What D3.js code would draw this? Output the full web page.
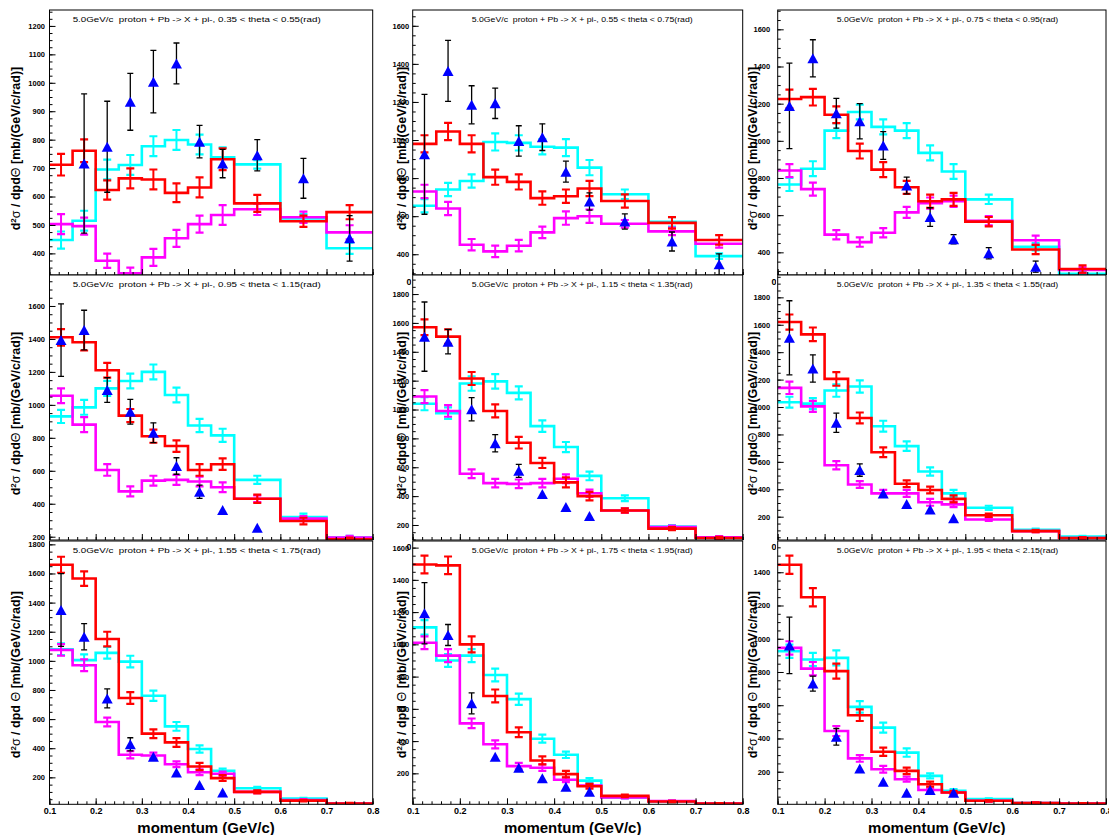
<!DOCTYPE html>
<html><head><meta charset="utf-8">
<script src="https://cdn.jsdelivr.net/npm/d3@7"></script>
<style>
body{margin:0;background:#fff}
text{font-family:"Liberation Sans",Arial,Helvetica,sans-serif}
</style>
</head><body>
<svg id="c" width="1109" height="835" xmlns="http://www.w3.org/2000/svg"></svg>
<script>
// ---------------- data ----------------
const binEdges = [0.1,0.15,0.2,0.25,0.3,0.35,0.4,0.45,0.5,0.6,0.7,0.8];
const thetaRanges = ["0.35 < theta < 0.55","0.55 < theta < 0.75","0.75 < theta < 0.95",
                     "0.95 < theta < 1.15","1.15 < theta < 1.35","1.35 < theta < 1.55",
                     "1.55 < theta < 1.75","1.75 < theta < 1.95","1.95 < theta < 2.15"];
const titlePrefix = "5.0GeV/c  proton + Pb -> X + pi-, ";
const titleSuffix = "(rad)";
const yMin  = [324, 291, 278, 180, 96, 30, 15, 8, 4];
const yMax  = [1256, 1683, 1704, 1788, 1932, 1963, 1823, 1641, 1588];
const yStep = [100, 200, 200, 200, 200, 200, 200, 200, 200];
const xTicks = [0.1,0.2,0.3,0.4,0.5,0.6,0.7,0.8];
const xTitle = "momentum (GeV/c)";

const redVals = [
 [712,761,623,664,660,613,632,731,576,513,545],
 [980,1045,980,805,780,695,705,745,680,565,475],
 [1225,1235,1140,945,845,750,675,685,565,415,310],
 [1410,1380,1210,935,810,750,605,640,430,295,185],
 [1570,1505,1215,990,770,630,495,400,300,175,110],
 [1620,1530,1205,920,670,440,395,330,210,95,45],
 [1660,1565,1150,745,500,440,275,195,100,40,20],
 [1495,1490,1000,680,455,280,195,120,60,25,12],
 [1445,1250,805,540,320,205,125,75,25,12,8]];
const redErrs = [
 [38,40,34,35,35,33,35,38,30,20,25],
 [45,45,45,40,40,35,35,40,35,30,25],
 [50,45,45,40,40,35,35,35,25,25,20],
 [50,50,45,40,40,35,35,35,25,20,10],
 [55,50,45,45,40,35,35,30,15,10,8],
 [55,50,50,40,35,25,25,25,12,8,5],
 [55,50,50,40,30,30,25,20,10,5,5],
 [55,55,50,40,30,25,20,15,8,5,3],
 [55,55,45,35,25,20,15,10,5,3,3]];
const cyanVals = [
 [447,515,695,711,777,799,783,738,713,523,418],
 [655,740,785,990,985,965,960,855,715,570,390],
 [765,850,1055,1155,1075,1055,935,835,685,430,285],
 [930,985,1100,1145,1200,1060,875,815,545,320,195],
 [1040,975,1180,1195,1115,885,740,540,385,190,115],
 [1035,1025,1120,1150,860,715,530,370,265,105,55],
 [1080,1005,1055,995,760,550,395,245,125,55,20],
 [1105,900,930,810,660,415,315,155,50,25,12],
 [925,875,885,590,465,315,175,85,35,12,8]];
const cyanErrs = [
 [30,35,35,35,35,35,35,35,15,15,20],
 [35,35,35,45,40,40,45,40,25,25,15],
 [35,40,40,40,40,40,40,40,25,20,15],
 [40,45,45,45,45,45,40,40,25,20,10],
 [45,40,50,50,45,40,35,30,20,10,8],
 [40,40,45,45,40,35,30,25,15,8,5],
 [40,40,40,40,35,30,25,15,10,5,3],
 [45,40,40,40,35,25,20,15,5,5,3],
 [40,40,45,35,30,25,15,10,5,3,3]];
const magentaVals = [
 [503,496,374,330,386,453,503,535,555,527,474],
 [730,640,450,415,445,515,590,600,560,520,455],
 [840,740,495,455,505,615,665,675,570,465,305],
 [1055,880,605,475,540,545,535,500,430,310,195],
 [1090,990,555,490,485,490,520,420,300,185,115],
 [1140,1005,575,435,370,370,305,290,180,95,45],
 [1075,970,580,355,350,290,235,225,100,45,20],
 [1010,930,510,380,245,235,160,125,50,28,12],
 [945,820,445,280,215,155,90,75,25,12,8]];
const magentaErrs = [
 [35,30,25,20,30,30,30,35,20,20,25],
 [35,35,30,30,30,30,35,35,20,20,20],
 [35,35,25,25,25,30,30,30,25,25,15],
 [45,45,35,30,30,30,30,30,20,15,10],
 [45,40,30,30,30,30,30,25,15,10,8],
 [45,40,30,25,25,25,25,20,10,8,5],
 [40,40,30,25,20,20,20,15,8,5,3],
 [40,40,30,25,20,20,15,10,5,5,3],
 [40,40,30,20,20,15,10,8,5,3,3]];
const dataX = [
 [0.175,0.225,0.275,0.325,0.375,0.425,0.475,0.55,0.65,0.75],
 [0.125,0.175,0.225,0.275,0.325,0.375,0.425,0.475,0.55,0.65,0.75],
 [0.125,0.175,0.225,0.275,0.325,0.375,0.425,0.475,0.55,0.65],
 [0.125,0.175,0.225,0.275,0.325,0.375,0.425,0.475,0.55],
 [0.125,0.175,0.225,0.275,0.325,0.375,0.425,0.475],
 [0.125,0.175,0.225,0.275,0.325,0.375,0.425,0.475],
 [0.125,0.175,0.225,0.275,0.325,0.375,0.425,0.475],
 [0.125,0.175,0.225,0.275,0.325,0.375,0.425,0.475],
 [0.125,0.175,0.225,0.275,0.325,0.375,0.425,0.475]];
const dataVals = [
 [716,775,933,1004,1068,793,716,745,664,453],
 [925,1363,1185,1193,995,1015,834,677,572,467,347],
 [1188,1444,1148,1105,975,760,590,470,395,323],
 [1393,1454,1090,958,831,629,473,362,255],
 [1505,1470,1002,766,575,415,325,262],
 [1505,1281,885,540,370,292,253,188],
 [1349,1166,742,427,342,234,147,96],
 [1193,1058,634,303,235,169,117,86],
 [960,730,410,220,140,74,90,74]];
const dataErrs = [
 [245,160,100,110,72,57,50,55,70,80],
 [315,160,100,80,80,70,55,45,40,50,55],
 [230,100,80,95,75,45,50,25,30,30],
 [220,120,75,75,60,50,40,0,0],
 [240,85,80,60,45,0,0,0],
 [270,100,70,45,0,0,0,0],
 [250,90,65,45,0,0,0,0],
 [190,65,65,0,0,0,0,0],
 [170,45,50,0,0,0,0,0]];

// ---------------- layout ----------------
const W = 1109, H = 835;
const colL = [49.5, 412.7, 777.7], colR = [372.7, 742.7, 1106];
const rowT = [10, 275, 541], rowB = [275, 540, 804.3];
const coverL = [0, 411.6, 776.3], coverR = [392, 760, 1109];
const titleX = [72.7, 471.7, 836.7], titleW = [248, 221, 221.6];
const yTitleX = [16, 402, 753], yTitleShift = [6, 6, 2];
const yLabGap = [4.5, 3.5, 7.5];
const FONT = '"Liberation Sans",Arial,Helvetica,sans-serif';

const svg = d3.select("#c");
svg.append("rect").attr("width", W).attr("height", H).attr("fill", "#fff");

const series = [
  {vals: cyanVals, errs: cyanErrs, color: "#00ffff"},
  {vals: magentaVals, errs: magentaErrs, color: "#ff00ff"},
  {vals: redVals, errs: redErrs, color: "#ff0000"}
];
const fmtX = d3.format(".1f");

for (let p = 0; p < 9; p++) {
  const r = Math.floor(p / 3), c = p % 3;
  const g = svg.append("g");
  // pad background (covers what the previous pads drew here)
  g.append("rect").attr("x", coverL[c]).attr("y", rowT[r])
    .attr("width", coverR[c] - coverL[c]).attr("height", rowB[r] - rowT[r]).attr("fill", "#fff");

  const x = d3.scaleLinear().domain([0.1, 0.8]).range([colL[c], colR[c]]);
  const y = d3.scaleLinear().domain([yMin[p], yMax[p]]).range([rowB[r], rowT[r]]);

  const cid = "clip" + p;
  g.append("clipPath").attr("id", cid).append("rect")
    .attr("x", colL[c]).attr("y", rowT[r]).attr("width", colR[c] - colL[c]).attr("height", rowB[r] - rowT[r]);
  const pg = g.append("g").attr("clip-path", `url(#${cid})`);

  const line = d3.line().x(d => x(d[0])).y(d => y(d[1]));
  series.forEach(s => {
    const v = s.vals[p], e = s.errs[p];
    const pts = [];
    v.forEach((val, i) => { pts.push([binEdges[i], val]); pts.push([binEdges[i + 1], val]); });
    pg.append("path").attr("d", line(pts)).attr("fill", "none")
      .attr("stroke", s.color).attr("stroke-width", 2.6);
    v.forEach((val, i) => {
      const xc = x((binEdges[i] + binEdges[i + 1]) / 2);
      const y1 = y(val - e[i]), y2 = y(val + e[i]);
      pg.append("line").attr("x1", xc).attr("x2", xc).attr("y1", y1).attr("y2", y2)
        .attr("stroke", s.color).attr("stroke-width", 2);
      [y1, y2].forEach(yy => pg.append("line").attr("x1", xc - 4).attr("x2", xc + 4)
        .attr("y1", yy).attr("y2", yy).attr("stroke", s.color).attr("stroke-width", 2.2));
    });
  });

  // data points
  dataX[p].forEach((xv, i) => {
    const xc = x(xv), v = dataVals[p][i], e = dataErrs[p][i];
    if (e > 0) {
      const y1 = y(v - e), y2 = y(v + e);
      pg.append("line").attr("x1", xc).attr("x2", xc).attr("y1", y1).attr("y2", y2)
        .attr("stroke", "#000").attr("stroke-width", 1.3);
      [y1, y2].forEach(yy => pg.append("line").attr("x1", xc - 3).attr("x2", xc + 3)
        .attr("y1", yy).attr("y2", yy).attr("stroke", "#000").attr("stroke-width", 1.3));
    }
    pg.append("path").attr("d", "M0,-5L5.5,5L-5.5,5Z")
      .attr("transform", `translate(${xc},${y(v)})`).attr("fill", "#0000ff");
  });

  // frame
  g.append("rect").attr("x", colL[c]).attr("y", rowT[r])
    .attr("width", colR[c] - colL[c]).attr("height", rowB[r] - rowT[r])
    .attr("fill", "none").attr("stroke", "#000").attr("stroke-width", 1);

  // x axis: minor ticks, major ticks (labels only in the bottom row)
  const xMinor = d3.range(0.1, 0.8001, 0.02);
  g.append("g").attr("transform", `translate(0,${rowB[r]})`)
    .call(d3.axisBottom(x).tickValues(xMinor).tickSizeInner(-3).tickSizeOuter(0).tickFormat(""))
    .call(a => a.select(".domain").remove());
  const xa = g.append("g").attr("transform", `translate(0,${rowB[r]})`)
    .call(d3.axisBottom(x).tickValues(xTicks).tickSizeInner(-6).tickSizeOuter(0)
      .tickPadding(3.2).tickFormat(r === 2 ? fmtX : ""));
  xa.select(".domain").remove();
  xa.selectAll("text").attr("font-size", 9).attr("font-weight", "bold").attr("font-family", FONT);

  // upper rows: the first x label peeks out left of the next pad (cols 2 and 3 only)
  if (r < 2 && c > 0) {
    const lid = "lclip" + p;
    g.append("clipPath").attr("id", lid).append("rect")
      .attr("x", coverL[c] - 20).attr("y", rowB[r]).attr("width", 20).attr("height", 14);
    g.append("text").attr("clip-path", `url(#${lid})`)
      .attr("x", x(xTicks[0])).attr("y", rowB[r] + 9.6).attr("text-anchor", "middle")
      .attr("font-size", 9).attr("font-weight", "bold").text(fmtX(xTicks[0]));
  }

  // y axis
  const st = yStep[p], mst = st / 4;
  const yMinor = d3.range(Math.ceil(yMin[p] / mst) * mst, yMax[p], mst);
  const yMajor = d3.range(Math.ceil(yMin[p] / st) * st, yMax[p], st);
  g.append("g").attr("transform", `translate(${colL[c]},0)`)
    .call(d3.axisLeft(y).tickValues(yMinor).tickSizeInner(-3).tickSizeOuter(0).tickFormat(""))
    .call(a => a.select(".domain").remove());
  const ya = g.append("g").attr("transform", `translate(${colL[c]},0)`)
    .call(d3.axisLeft(y).tickValues(yMajor).tickSizeInner(-6).tickSizeOuter(0)
      .tickPadding(yLabGap[c]).tickFormat(d3.format("d")));
  ya.select(".domain").remove();
  ya.selectAll("text").attr("font-size", 7.5).attr("font-weight", "bold").attr("font-family", FONT);

  // panel title
  g.append("text").attr("x", titleX[c]).attr("y", rowT[r] + 12.2)
    .attr("font-size", 7.5).attr("textLength", titleW[c]).attr("lengthAdjust", "spacingAndGlyphs")
    .style("white-space", "pre")
    .text(titlePrefix + thetaRanges[p] + titleSuffix);

  // y title
  const yt = g.append("text")
    .attr("transform", `translate(${yTitleX[c]},${(rowT[r] + rowB[r]) / 2 + yTitleShift[r]}) rotate(-90)`)
    .attr("text-anchor", "middle").attr("dy", "0.35em")
    .attr("font-size", 12.5).attr("font-weight", "bold");
  yt.append("tspan").text("d");
  yt.append("tspan").attr("font-size", 8).attr("baseline-shift", "super").text("2");
  yt.append("tspan").attr("font-weight", "normal").text("σ");
  yt.append("tspan").style("white-space", "pre").text(r === 2 ? " / dpd " : " / dpd");
  yt.append("tspan").attr("font-weight", "normal").text("Θ");
  yt.append("tspan").style("white-space", "pre").text(" [mb/(GeV/c/rad)]");

  // x title only in bottom row
  if (r === 2) {
    g.append("text").attr("x", (colL[c] + colR[c]) / 2 - 5).attr("y", 833)
      .attr("text-anchor", "middle").attr("font-size", 15).attr("font-weight", "bold")
      .text(xTitle);
  }
}
</script>
</body></html>
